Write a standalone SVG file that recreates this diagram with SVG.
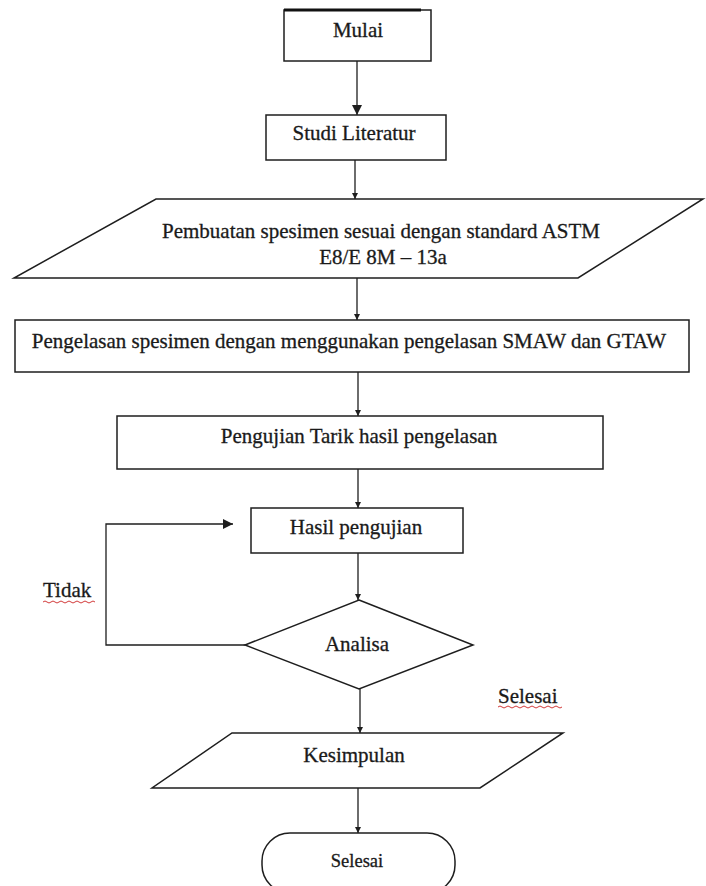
<svg xmlns="http://www.w3.org/2000/svg" width="706" height="886" viewBox="0 0 706 886">
<style>
.shape{fill:#fff;stroke:#1e1e1e;stroke-width:1.5}
.t{font-family:"Liberation Serif","Times New Roman",serif;font-size:21px;fill:#1a1a1a;stroke:#1a1a1a;stroke-width:0.3;text-anchor:middle}
.conn{fill:none;stroke:#1e1e1e;stroke-width:1.3}
.squig{fill:none;stroke:#d23a3a;stroke-width:1}
</style>
<defs>
<marker id="ahS" markerUnits="userSpaceOnUse" markerWidth="6" markerHeight="6" refX="6" refY="3" orient="auto">
<path d="M0,0 L6,3 L0,6 z" fill="#1e1e1e"/>
</marker>
<marker id="ahL" markerUnits="userSpaceOnUse" markerWidth="10" markerHeight="10" refX="10" refY="5" orient="auto">
<path d="M0,0 L10,5 L0,10 z" fill="#1e1e1e"/>
</marker>
</defs>
<rect width="706" height="886" fill="#fff"/>

<g id="connectors">
<line class="conn" x1="357" y1="61" x2="357" y2="115" stroke-width="1.6" marker-end="url(#ahL)"/>
<line class="conn" x1="355" y1="160" x2="355" y2="199" marker-end="url(#ahS)"/>
<line class="conn" x1="357" y1="278" x2="357" y2="320" stroke-width="1.6" marker-end="url(#ahS)"/>
<line class="conn" x1="358" y1="372" x2="358" y2="416" marker-end="url(#ahS)"/>
<line class="conn" x1="358" y1="469" x2="358" y2="508" marker-end="url(#ahS)"/>
<line class="conn" x1="358" y1="553" x2="358" y2="600" marker-end="url(#ahS)"/>
<line class="conn" x1="360" y1="689" x2="360" y2="733" marker-end="url(#ahS)"/>
<line class="conn" x1="358" y1="788" x2="358" y2="833" marker-end="url(#ahS)"/>
<polyline class="conn" points="245,645 106,645 106,524 233,524" stroke-width="2" marker-end="url(#ahL)"/>
<text class="t" x="43" y="597" style="text-anchor:start">Tidak</text>
<path class="squig" d="M43,602 q2,-2 4,0 t4,0 t4,0 t4,0 t4,0 t4,0 t4,0 t4,0 t4,0 t4,0 t4,0 t4,0 t4,0"/>
<text class="t" x="498" y="703" style="text-anchor:start">Selesai</text>
<path class="squig" d="M498,707 q2,-2 4,0 t4,0 t4,0 t4,0 t4,0 t4,0 t4,0 t4,0 t4,0 t4,0 t4,0 t4,0 t4,0 t4,0 t4,0 t4,0"/>
</g>

<g id="mulai">
<rect class="shape" x="284" y="10" width="147" height="51"/>
<line x1="284" y1="10" x2="421" y2="10" stroke="#111" stroke-width="3"/>
<text class="t" x="358" y="37">Mulai</text>
</g>

<g id="studi-literatur">
<rect class="shape" x="266" y="115" width="180" height="45"/>
<text class="t" x="354" y="140">Studi Literatur</text>
</g>

<g id="pembuatan-spesimen">
<polygon class="shape" points="156,199 703,199 578,278 14,278"/>
<text class="t" x="381" y="238">Pembuatan spesimen sesuai dengan standard ASTM</text>
<text class="t" x="383" y="264">E8/E 8M – 13a</text>
</g>

<g id="pengelasan">
<rect class="shape" x="15" y="320" width="674" height="52"/>
<text class="t" x="349" y="348">Pengelasan spesimen dengan menggunakan pengelasan SMAW dan GTAW</text>
</g>

<g id="pengujian-tarik">
<rect class="shape" x="117" y="416" width="486" height="53"/>
<text class="t" x="359" y="443">Pengujian Tarik hasil pengelasan</text>
</g>

<g id="hasil-pengujian">
<rect class="shape" x="251" y="508" width="212" height="45"/>
<text class="t" x="356" y="534">Hasil pengujian</text>
</g>

<g id="analisa">
<polygon class="shape" points="359,600 473,645 359,689 245,645"/>
<text class="t" x="357" y="651">Analisa</text>
</g>

<g id="kesimpulan">
<polygon class="shape" points="232,733 563,733 480,788 152,788"/>
<text class="t" x="354" y="762">Kesimpulan</text>
</g>

<g id="selesai">
<rect class="shape" x="262" y="833" width="193" height="60" rx="28" ry="28"/>
<text class="t" x="357" y="867" style="font-size:18.5px">Selesai</text>
</g>
</svg>
